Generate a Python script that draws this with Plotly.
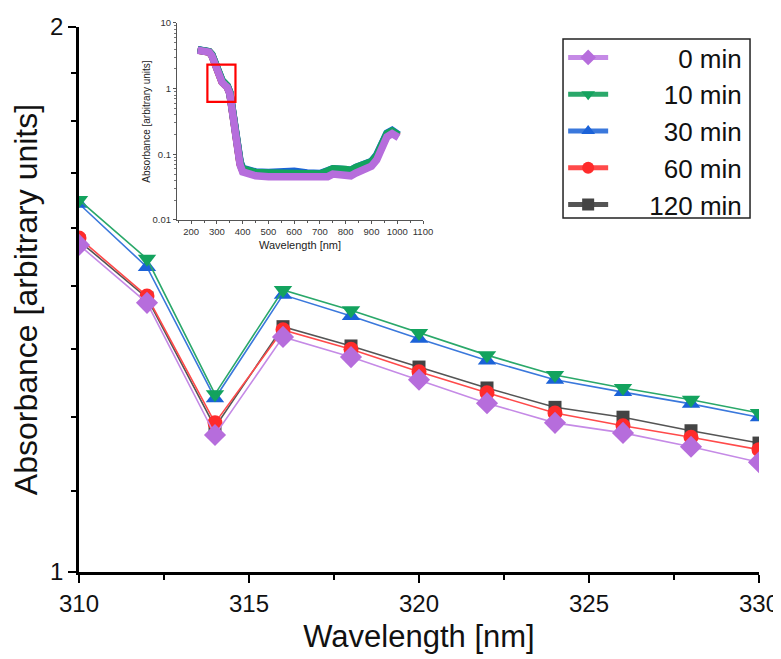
import plotly.graph_objects as go

# ---------------- main chart data ----------------
wavelength = [310, 312, 314, 316, 318, 320, 322, 324, 326, 328, 330]
abs_0min = [1.470, 1.373, 1.175, 1.319, 1.288, 1.254, 1.220, 1.192, 1.178, 1.159, 1.138]
abs_10min = [1.550, 1.446, 1.233, 1.394, 1.361, 1.325, 1.291, 1.261, 1.242, 1.225, 1.206]
abs_30min = [1.543, 1.432, 1.227, 1.386, 1.352, 1.316, 1.283, 1.254, 1.236, 1.219, 1.200]
abs_60min = [1.482, 1.384, 1.192, 1.330, 1.300, 1.266, 1.235, 1.206, 1.188, 1.172, 1.155]
abs_120min = [1.477, 1.381, 1.186, 1.335, 1.305, 1.273, 1.242, 1.214, 1.200, 1.181, 1.164]

series_names = ["0 min", "10 min", "30 min", "60 min", "120 min"]

# ---------------- inset data (full spectrum) ----------------
inset_wl = [225, 240, 255, 270, 280, 290, 300, 310, 320, 330, 340, 350, 360, 370,
            380, 390, 400, 420, 450, 500, 550, 600, 650, 700, 730, 750, 800, 820,
            840, 860, 880, 900, 920, 940, 960, 980, 1000, 1005]
inset_0min = [3.84, 3.75, 3.65, 3.60, 3.20, 2.55, 2.02, 1.47, 1.25, 1.14, 1.05, 0.84,
              0.47, 0.207, 0.103, 0.0685, 0.054, 0.050, 0.047, 0.0457, 0.0457, 0.0457,
              0.0446, 0.043, 0.0457, 0.050, 0.048, 0.047, 0.052, 0.057, 0.064, 0.066,
              0.082, 0.116, 0.185, 0.207, 0.190, 0.180]
inset_10min = [3.90, 3.80, 3.70, 3.65, 3.30, 2.65, 2.10, 1.55, 1.33, 1.21, 1.10, 0.88,
               0.50, 0.225, 0.115, 0.075, 0.060, 0.056, 0.053, 0.052, 0.052, 0.053,
               0.051, 0.050, 0.056, 0.060, 0.059, 0.057, 0.063, 0.067, 0.074, 0.077,
               0.095, 0.135, 0.205, 0.225, 0.210, 0.195]
inset_30min = [3.92, 3.82, 3.72, 3.66, 3.32, 2.66, 2.10, 1.54, 1.32, 1.20, 1.10, 0.88,
               0.51, 0.228, 0.117, 0.077, 0.061, 0.057, 0.054, 0.053, 0.054, 0.055,
               0.052, 0.051, 0.056, 0.060, 0.058, 0.057, 0.063, 0.068, 0.076, 0.078,
               0.097, 0.138, 0.210, 0.232, 0.215, 0.198]
inset_60min = [3.86, 3.77, 3.67, 3.62, 3.25, 2.60, 2.06, 1.48, 1.27, 1.16, 1.07, 0.86,
               0.48, 0.215, 0.108, 0.071, 0.057, 0.053, 0.050, 0.049, 0.049, 0.050,
               0.048, 0.047, 0.051, 0.055, 0.054, 0.053, 0.058, 0.062, 0.069, 0.071,
               0.088, 0.125, 0.195, 0.215, 0.200, 0.188]
inset_120min = [3.87, 3.77, 3.67, 3.62, 3.26, 2.61, 2.07, 1.48, 1.27, 1.16, 1.07, 0.86,
                0.48, 0.216, 0.109, 0.072, 0.057, 0.053, 0.050, 0.049, 0.050, 0.050,
                0.048, 0.047, 0.052, 0.055, 0.054, 0.053, 0.058, 0.062, 0.069, 0.071,
                0.089, 0.126, 0.196, 0.216, 0.201, 0.189]

# highlighted region in inset (wavelength range, absorbance range)
box_wl = [263, 372]
box_abs = [0.63, 2.32]

colors = ["#b66ddc", "#13a35e", "#1b62d8", "#ff2b2b", "#444444"]
line_colors = ["#c58ae6", "#2aa86a", "#3a78dc", "#ff4a4a", "#555555"]
symbols = ["diamond", "triangle-down", "triangle-up", "circle", "square"]
msizes = [17, 16, 16, 15, 13]

main_values = [abs_0min, abs_10min, abs_30min, abs_60min, abs_120min]
inset_values = [inset_0min, inset_10min, inset_30min, inset_60min, inset_120min]

NB = "\u00a0"
base = NB * 5
pad = [base + NB * 4, base + NB * 2, base + NB * 2, base + NB * 2, base]

FONT = "Arial, Liberation Sans, sans-serif"

fig = go.Figure()

# Main traces: draw last series first so 0 min is on top
for i in [4, 3, 2, 1, 0]:
    fig.add_trace(go.Scatter(
        x=wavelength, y=main_values[i], mode="lines+markers",
        name=pad[i] + series_names[i],
        line=dict(color=line_colors[i], width=1.6),
        marker=dict(symbol=symbols[i], size=msizes[i], color=colors[i],
                    line=dict(width=0)),
        legendrank=i + 1,
        xaxis="x", yaxis="y",
    ))

# Inset traces
for i in [4, 3, 2, 1, 0]:
    fig.add_trace(go.Scatter(
        x=inset_wl, y=inset_values[i], mode="lines",
        line=dict(color=colors[i], width=7.5),
        showlegend=False, hoverinfo="skip",
        xaxis="x2", yaxis="y2",
    ))

# red box in the inset marking the zoomed region
fig.add_shape(
    type="rect", xref="x2", yref="y2",
    x0=box_wl[0], x1=box_wl[1],
    y0=box_abs[0], y1=box_abs[1],
    line=dict(color="#ff0000", width=2.2), fillcolor="rgba(0,0,0,0)",
)

# legend frame
fig.add_shape(
    type="rect", xref="paper", yref="paper",
    x0=0.7118, x1=0.9868, y0=0.6413, y1=0.9656,
    line=dict(color="#222222", width=1.5), fillcolor="rgba(0,0,0,0)",
)

fig.update_layout(
    width=773, height=651,
    margin=dict(l=71, r=22, t=12, b=87),
    paper_bgcolor="white", plot_bgcolor="white",
    font=dict(family=FONT, color="#111111"),
    showlegend=True,
    legend=dict(
        x=0.712, y=0.9746, xanchor="left", yanchor="top",
        bgcolor="rgba(0,0,0,0)", borderwidth=0,
        font=dict(size=26, family=FONT, color="#111111"),
        itemwidth=40, tracegroupgap=0, itemsizing="constant",
    ),
    xaxis=dict(
        domain=[0, 1], range=[310, 330], automargin=False,
        tickmode="array", tickvals=[310, 315, 320, 325, 330],
        ticks="outside", ticklen=8, tickwidth=2, tickcolor="black",
        minor=dict(tickvals=[312.5, 317.5, 322.5, 327.5], ticks="outside",
                   ticklen=5, tickwidth=2, tickcolor="black"),
        showline=True, linecolor="black", linewidth=2.5, mirror=False,
        showgrid=False, zeroline=False,
        tickfont=dict(size=24, color="#111111"),
        title=dict(text=NB * 3 + "Wavelength [nm]", font=dict(size=31, color="#111111"), standoff=10),
    ),
    yaxis=dict(
        domain=[0, 0.9873], type="log", range=[0, 0.2787536], automargin=False,
        tickmode="array", tickvals=[1, 1.9], ticktext=["1", "2"],
        ticks="outside", ticklen=8, tickwidth=2, tickcolor="black",
        minor=dict(tickvals=[1.1, 1.2, 1.3, 1.4, 1.5, 1.6, 1.7, 1.8], ticks="outside",
                   ticklen=5, tickwidth=2, tickcolor="black"),
        showline=True, linecolor="black", linewidth=2.5, mirror=False,
        showgrid=False, zeroline=False,
        tickfont=dict(size=24, color="#111111"),
        title=dict(text="Absorbance [arbitrary units]", font=dict(size=32, color="#111111"), standoff=4),
    ),
    xaxis2=dict(
        domain=[0.1441, 0.5059], anchor="y2", range=[145, 1100], automargin=False,
        tickmode="array", tickvals=[200, 300, 400, 500, 600, 700, 800, 900, 1000, 1100],
        ticks="outside", ticklen=3, tickwidth=1, tickcolor="#555555",
        minor=dict(tickvals=[150, 250, 350, 450, 550, 650, 750, 850, 950, 1050],
                   ticks="outside", ticklen=2, tickwidth=1, tickcolor="#555555"),
        showline=True, linecolor="#555555", linewidth=1, mirror=False,
        showgrid=False, zeroline=False,
        tickfont=dict(size=9.5, color="#333333"),
        title=dict(text="Wavelength [nm]", font=dict(size=11, color="#222222"), standoff=4),
    ),
    yaxis2=dict(
        domain=[0.6377, 0.9946], anchor="x2", type="log", range=[-2, 1], automargin=False,
        tickmode="array", tickvals=[0.01, 0.1, 1, 10], ticktext=["0.01", "0.1", "1", "10"],
        ticks="outside", ticklen=3, tickwidth=1, tickcolor="#555555",
        minor=dict(tickvals=[0.02, 0.03, 0.04, 0.05, 0.06, 0.07, 0.08, 0.09,
                             0.2, 0.3, 0.4, 0.5, 0.6, 0.7, 0.8, 0.9,
                             2, 3, 4, 5, 6, 7, 8, 9],
                   ticks="outside", ticklen=1.5, tickwidth=1, tickcolor="#777777"),
        showline=True, linecolor="#555555", linewidth=1, mirror=False,
        showgrid=False, zeroline=False,
        tickfont=dict(size=9.5, color="#333333"),
        title=dict(text="Absorbance [arbitrary units]", font=dict(size=10, color="#222222"), standoff=0),
    ),
)

fig.write_html("out.html")
